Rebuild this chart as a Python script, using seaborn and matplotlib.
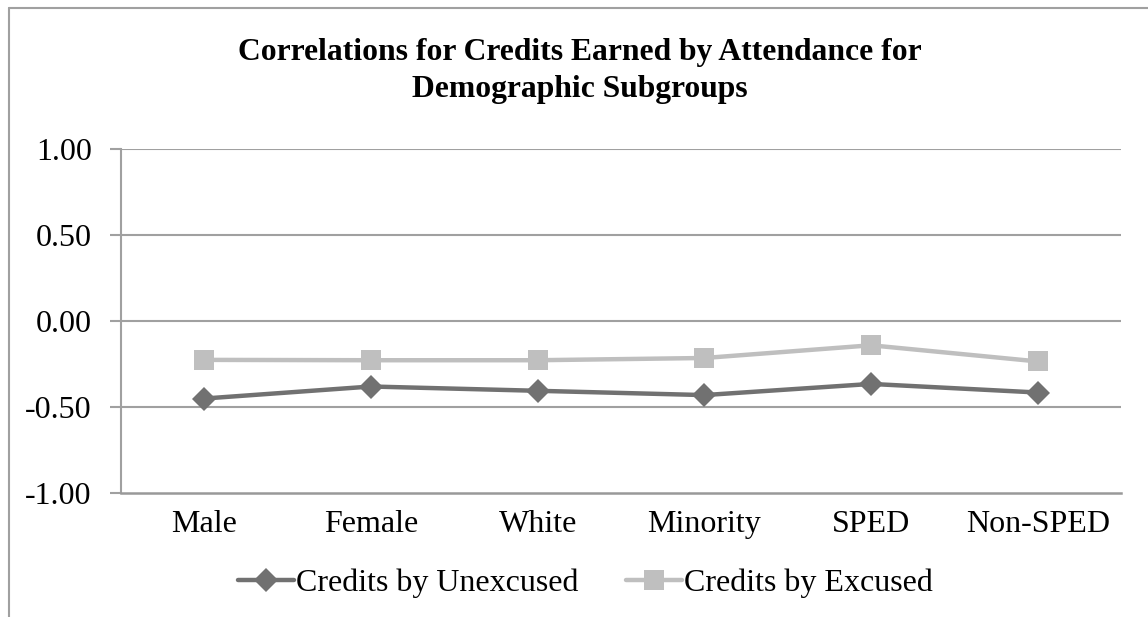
import matplotlib
matplotlib.use("Agg")
import matplotlib.pyplot as plt
import matplotlib.lines as mlines
import seaborn as sns
import pandas as pd

categories = ["Male", "Female", "White", "Minority", "SPED", "Non-SPED"]
unexcused = [-0.45, -0.38, -0.405, -0.43, -0.365, -0.415]
excused = [-0.225, -0.227, -0.227, -0.214, -0.14, -0.234]
series_names = ["Credits by Unexcused", "Credits by Excused"]
y_ticks = [-1.0, -0.5, 0.0, 0.5, 1.0]
title_lines = ["Correlations for Credits Earned by Attendance for",
               "Demographic Subgroups"]

df = pd.DataFrame({
    "category": categories * 2,
    "value": unexcused + excused,
    "series": [series_names[0]] * len(categories) + [series_names[1]] * len(categories),
})
df["x"] = df["category"].map({c: i for i, c in enumerate(categories)})

sns.set_theme(style="white")
plt.rcParams["font.family"] = ["Liberation Serif", "DejaVu Serif"]
plt.rcParams["text.color"] = "black"

colors = {series_names[0]: "#717171", series_names[1]: "#bfbfbf"}
markers = {series_names[0]: "D", series_names[1]: "s"}
msizes = {series_names[0]: 12, series_names[1]: 14}

fig = plt.figure(figsize=(11.48, 6.17), dpi=100)
ax = fig.add_axes([0.1054, 0.201, 0.8711, 0.5567])

for name in series_names:
    sub = df[df["series"] == name]
    sns.lineplot(data=sub, x="x", y="value", ax=ax, color=colors[name],
                 linewidth=3.2, marker=markers[name], markersize=msizes[name],
                 markeredgewidth=0, markeredgecolor=colors[name], legend=False)

ax.set_xlim(-0.5, len(categories) - 0.5)
ax.set_ylim(-1.0, 1.0)
ax.set_yticks(y_ticks)
ax.set_yticklabels([f"{v:.2f}" for v in y_ticks])
ax.set_xticks(range(len(categories)))
ax.set_xticklabels(categories)
ax.set_xlabel("")
ax.set_ylabel("")

grid_c = "#a0a0a0"
for v in y_ticks[1:]:
    ax.axhline(v, color=grid_c, linewidth=1.5, zorder=0)
for side in ["top", "right"]:
    ax.spines[side].set_visible(False)
ax.spines["left"].set_color(grid_c)
ax.spines["left"].set_linewidth(1.5)
ax.spines["bottom"].set_color("#999999")
ax.spines["bottom"].set_linewidth(1.8)

ax.tick_params(axis="y", which="both", left=True, length=8, width=1.5,
               color=grid_c, labelsize=23, pad=13, labelcolor="black")
ax.tick_params(axis="x", which="both", bottom=False, length=0,
               labelsize=23, pad=12, labelcolor="black")
ax.set_facecolor("white")

# two-line bold title, each line placed on its own baseline
for line, yb in zip(title_lines, [0.9028, 0.8428]):
    fig.text(0.505, yb, line, ha="center", va="baseline", fontsize=22.8,
             fontweight="bold", color="black")

handles = [mlines.Line2D([], [], color=colors[n], linewidth=3.2, marker=markers[n],
                         markersize=msizes[n], markeredgewidth=0) for n in series_names]
leg = fig.legend(handles, series_names, loc="center", bbox_to_anchor=(0.51, 0.055),
                 ncol=2, frameon=False, fontsize=23, handlelength=1.75,
                 handletextpad=0.05, columnspacing=1.5)
for t in leg.get_texts():
    t.set_color("black")

# outer chart frame (top and left edges)
fig.add_artist(mlines.Line2D([0.0075, 1.0], [0.987, 0.987], color="#a0a0a0",
                             linewidth=1.5, transform=fig.transFigure))
fig.add_artist(mlines.Line2D([0.0075, 0.0075], [0.0, 0.987], color="#a0a0a0",
                             linewidth=1.5, transform=fig.transFigure))

fig.savefig("out.png", dpi=100, facecolor="white")
